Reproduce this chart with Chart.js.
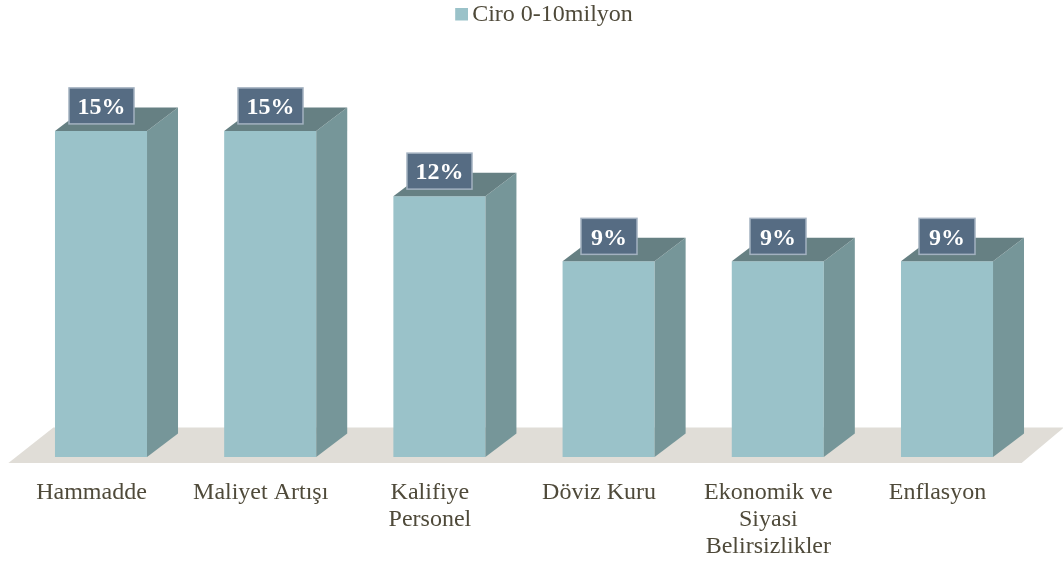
<!DOCTYPE html>
<html><head><meta charset="utf-8">
<script src="https://cdn.jsdelivr.net/npm/chart.js@4"></script>
<style>html,body{margin:0;padding:0;background:#fff}canvas{display:block}</style>
</head><body><canvas id="c" width="1063" height="563"></canvas>
<script>
const categories = [["Hammadde"],["Maliyet Artışı"],["Kalifiye","Personel"],["Döviz Kuru"],["Ekonomik ve","Siyasi","Belirsizlikler"],["Enflasyon"]];
const values = [15,15,12,9,9,9];
const seriesName = "Ciro 0-10milyon";
const FRONT="#9ac2c9", SIDE="#769699", TOP="#668083", FLOOR="#e0ddd7", BOX="#566c83", BOXB="#a3b1c0", TXT="#4f4a3a";
const DX=31, DY=23.5;
const FONT="'Liberation Serif','Times New Roman',serif";
const swatch=document.createElement('canvas');swatch.width=16;swatch.height=15;
{const s=swatch.getContext('2d');s.fillStyle=FRONT;s.fillRect(3,0,13,13);}
function poly(ctx,pts,fill){ctx.beginPath();pts.forEach((p,i)=>i?ctx.lineTo(p[0],p[1]):ctx.moveTo(p[0],p[1]));ctx.closePath();ctx.fillStyle=fill;ctx.fill();}
const box3d={id:'box3d',
 afterLayout(ch){ch.legend.left+=22.5;ch.legend.right+=22.5;},
 beforeDatasetsDraw(ch){const {ctx,chartArea:a}=ch;ctx.save();
  poly(ctx,[[a.left-8,a.bottom+6],[a.left+37,a.bottom-29.5],[1064,a.bottom-29.5],[a.right-10,a.bottom+6]],FLOOR);ctx.restore();},
 afterDatasetsDraw(ch){const {ctx}=ch;const els=ch.getDatasetMeta(0).data;ctx.save();
  els.forEach((b,i)=>{const l=b.x-b.width/2,r=b.x+b.width/2;
   poly(ctx,[[r,b.y],[r+DX,b.y-DY],[r+DX,b.base-DY],[r,b.base]],SIDE);
   poly(ctx,[[l,b.y],[l+DX,b.y-DY],[r+DX,b.y-DY],[r,b.y]],TOP);
  });
  els.forEach((b,i)=>{const t=values[i]+"%";ctx.font="bold 24px "+FONT;
   const tw=ctx.measureText(t).width;const w=Math.round(tw)+(tw<40?20:17),h=36,x=Math.round(b.x-w/2),y=b.y-43;
   ctx.fillStyle=BOX;ctx.fillRect(x,y,w,h);ctx.strokeStyle=BOXB;ctx.lineWidth=1.5;ctx.strokeRect(x,y,w,h);
   ctx.fillStyle="#fff";ctx.textAlign="center";ctx.textBaseline="middle";ctx.fillText(t,x+w/2,y+h/2+2);
  });ctx.restore();}};
new Chart(document.getElementById('c'),{type:'bar',
 data:{labels:categories,datasets:[{label:seriesName,data:values,backgroundColor:FRONT,borderWidth:0,categoryPercentage:1,barPercentage:0.544}]},
 options:{responsive:false,animation:false,
  layout:{padding:{left:16.4,right:31.4,top:0,bottom:0}},
  plugins:{legend:{position:'top',align:'center',labels:{usePointStyle:true,pointStyle:swatch,pointStyleWidth:0.01,boxHeight:13,padding:3,color:TXT,font:{family:FONT,size:24}}},tooltip:{enabled:false}},
  scales:{
   x:{afterFit(s){s.height=106;},grid:{display:false,drawTicks:false},border:{display:false},ticks:{color:TXT,padding:22,labelOffset:-9.5,maxRotation:0,autoSkip:false,font:{family:FONT,size:24,lineHeight:1.125}}},
   y:{display:false,min:0,max:19.32}
  }},
 plugins:[box3d]});
</script></body></html>
